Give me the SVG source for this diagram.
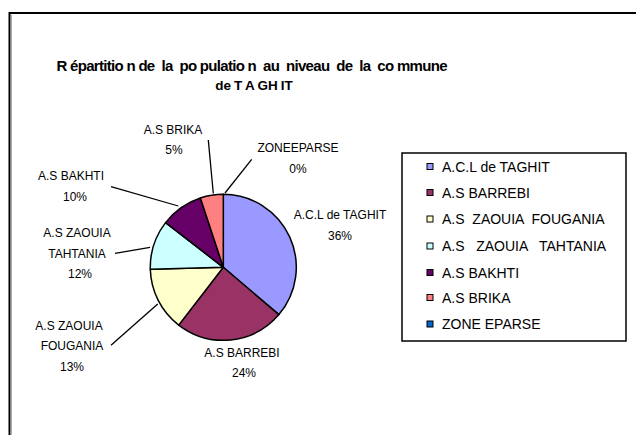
<svg xmlns="http://www.w3.org/2000/svg" width="636" height="435" viewBox="0 0 636 435">
<style>
text{font-family:"Liberation Sans",Arial,sans-serif;fill:#000}
.t{font-size:15px;font-weight:bold}
.l{font-size:12px;text-anchor:middle}
.g{font-size:14px}
.s{stroke:#000;stroke-width:1.5;stroke-linejoin:round}
.k{stroke:#000;stroke-width:1.3;fill:none}
.sw{stroke:#000;stroke-width:1}
</style>
<rect width="636" height="435" fill="#fff"/>
<path d="M9.5,435 V13 H636" fill="none" stroke="#000" stroke-width="2"/>
<path d="M11.5,435 V15" fill="none" stroke="#999" stroke-width="0.8"/>
<g id="title">
<text class="t" x="252" y="70.5" text-anchor="middle" textLength="391" lengthAdjust="spacing" xml:space="preserve">R épartitio n de  la  po pulatio n  au  niveau  de  la  co mmune</text>
<text class="t" x="254" y="90" text-anchor="middle" style="font-size:13.5px;word-spacing:-0.6px" xml:space="preserve">de T A GH IT</text>
</g>
<g id="pie">
<path id="slice-acl" class="s" fill="#9999FF" d="M223.3,267.3 L223.3,194.3 A73,73 0 0 1 278.9,314.6 Z"/>
<path id="slice-barrebi" class="s" fill="#993366" d="M223.3,267.3 L278.9,314.6 A73,73 0 0 1 178.7,325.1 Z"/>
<path id="slice-fougania" class="s" fill="#FFFFCC" d="M223.3,267.3 L178.7,325.1 A73,73 0 0 1 150.3,269.3 Z"/>
<path id="slice-tahtania" class="s" fill="#CCFFFF" d="M223.3,267.3 L150.3,269.3 A73,73 0 0 1 165.6,222.6 Z"/>
<path id="slice-bakhti" class="s" fill="#660066" d="M223.3,267.3 L165.6,222.6 A73,73 0 0 1 200.4,198.0 Z"/>
<path id="slice-brika" class="s" fill="#FF8080" d="M223.3,267.3 L200.4,198.0 A73,73 0 0 1 223.3,194.3 Z"/>
</g>
<g id="connectors">
<path class="k" d="M251.7,159.3 L225,193"/>
<path class="k" d="M208.3,140 L213.3,193.5"/>
<path class="k" d="M111,186.7 L178.3,206"/>
<path class="k" d="M115,253.3 L150,247.3"/>
<path class="k" d="M111,345.3 L157.7,304"/>
</g>
<g id="labels">
<g id="lbl-brika"><text class="l" x="173" y="133.5">A.S BRIKA</text><text class="l" x="174" y="153.5">5%</text></g>
<g id="lbl-zone"><text class="l" x="298" y="152">ZONEEPARSE</text><text class="l" x="298" y="173">0%</text></g>
<g id="lbl-acl"><text class="l" x="340" y="218.5">A.C.L de TAGHIT</text><text class="l" x="340" y="240">36%</text></g>
<g id="lbl-barrebi"><text class="l" x="242" y="357">A.S BARREBI</text><text class="l" x="244" y="377">24%</text></g>
<g id="lbl-fougania"><text class="l" x="69" y="329.5">A.S ZAOUIA</text><text class="l" x="72" y="349.5">FOUGANIA</text><text class="l" x="72" y="370.5">13%</text></g>
<g id="lbl-tahtania"><text class="l" x="77" y="237">A.S ZAOUIA</text><text class="l" x="77" y="257.5">TAHTANIA</text><text class="l" x="80" y="277.5">12%</text></g>
<g id="lbl-bakhti"><text class="l" x="71" y="180">A.S BAKHTI</text><text class="l" x="75" y="200.5">10%</text></g>
</g>
<g id="legend">
<rect x="402" y="153" width="224" height="188" fill="#fff" stroke="#000" stroke-width="1.5"/>
<g id="leg-acl"><rect class="sw" x="427" y="163.5" width="6" height="6" fill="#9999FF"/><text class="g" x="442" y="171.7">A.C.L de TAGHIT</text></g>
<g id="leg-barrebi"><rect class="sw" x="427" y="189.5" width="6" height="6" fill="#993366"/><text class="g" x="442" y="197.5">A.S BARREBI</text></g>
<g id="leg-fougania"><rect class="sw" x="427" y="216" width="6" height="6" fill="#FFFFCC"/><text class="g" x="442" y="224.3" xml:space="preserve">A.S  ZAOUIA  FOUGANIA</text></g>
<g id="leg-tahtania"><rect class="sw" x="427" y="243" width="6" height="6" fill="#CCFFFF"/><text class="g" x="442" y="251" xml:space="preserve">A.S   ZAOUIA   TAHTANIA</text></g>
<g id="leg-bakhti"><rect class="sw" x="427" y="269.5" width="6" height="6" fill="#660066"/><text class="g" x="442" y="277.7">A.S BAKHTI</text></g>
<g id="leg-brika"><rect class="sw" x="427" y="294.5" width="6" height="6" fill="#FF8080"/><text class="g" x="442" y="302.7">A.S BRIKA</text></g>
<g id="leg-zone"><rect class="sw" x="427" y="321" width="6" height="6" fill="#0066CC"/><text class="g" x="442" y="329">ZONE EPARSE</text></g>
</g>
</svg>
